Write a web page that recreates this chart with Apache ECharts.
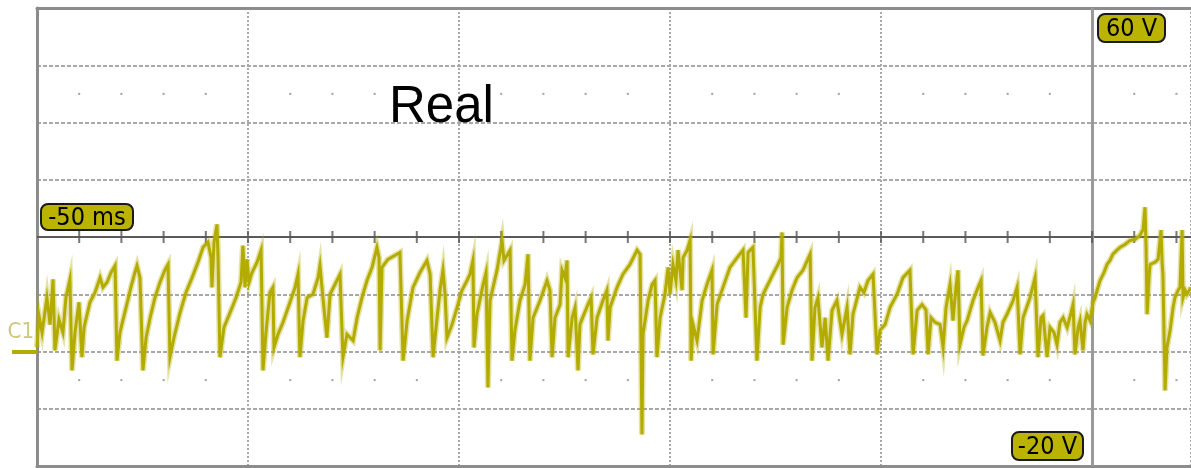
<!DOCTYPE html>
<html><head><meta charset="utf-8">
<script src="https://cdn.jsdelivr.net/npm/echarts@6/dist/echarts.min.js"></script>
<style>html,body{margin:0;padding:0;background:#fff}#c{width:1191px;height:468px}</style>
</head><body><div id="c"></div>
<script>
// Time (ms) and voltage (V) of the captured trace
const timeMs = [
 -50.00,-49.91,-49.76,-49.53,-49.38,-49.24,-49.15,-48.96,-48.77,-48.63,-48.44,-48.34,-48.20,-48.01,-47.87,-47.77,-47.49,-47.25,-47.01,-46.87,
 -46.68,-46.49,-46.30,-46.21,-46.07,-45.78,-45.55,-45.36,-45.26,-45.12,-44.98,-44.83,-44.64,-44.41,-44.17,-43.93,-43.79,-43.70,-43.51,-43.22,
 -42.94,-42.65,-42.37,-42.13,-41.90,-41.75,-41.71,-41.61,-41.47,-41.42,-41.33,-41.14,-40.85,-40.57,-40.33,-40.24,-40.14,-40.05,-39.95,-39.81,
 -39.57,-39.38,-39.29,-39.15,-38.96,-38.82,-38.77,-38.58,-38.34,-38.01,-37.77,-37.63,-37.54,
 -37.39,-37.20,-36.92,-36.68,-36.59,-36.45,-36.26,-36.11,-35.88,-35.64,-35.50,-35.31,-35.02,-34.83,-34.60,-34.36,-34.12,-33.89,-33.79,-33.74,
 -33.65,-33.37,-33.03,-32.80,-32.65,-32.46,-32.18,-31.85,-31.52,-31.37,-31.23,-31.04,-30.90,-30.76,-30.66,-30.57,-30.33,-30.09,-29.86,-29.62,
 -29.48,-29.34,-29.29,-29.15,-28.86,-28.72,-28.63,-28.53,-28.20,-27.96,-27.87,-27.58,-27.49,
 -27.35,-27.11,-26.87,-26.73,-26.64,-26.49,-26.16,-25.83,-25.69,-25.59,-25.45,-25.21,-25.12,-24.98,-24.88,-24.83,-24.64,-24.50,-24.36,-24.27,
 -24.08,-23.89,-23.74,-23.65,-23.46,-23.18,-22.99,-22.94,-22.84,-22.51,-22.23,-21.90,-21.56,-21.42,-21.33,-21.28,-21.04,-20.85,-20.71,-20.62,
 -20.47,-20.24,-20.09,-20.00,-19.86,-19.72,-19.62,-19.43,-19.38,-19.19,-19.05,-19.00,-18.91,-18.72,-18.48,-18.25,-18.01,-17.96,-17.77,-17.49,
 -17.16,-16.82,-16.54,-16.40,-16.30,-16.07,-15.88,
 -15.73,-15.59,-15.36,-15.12,-14.88,-14.74,-14.69,-14.64,-14.45,-14.22,-13.98,-13.70,-13.36,-13.27,-13.13,-12.99,-12.80,-12.65,-12.51,-12.32,
 -12.09,-11.85,-11.61,-11.47,-11.33,-11.00,-10.81,-10.62,-10.38,-10.19,-10.05,-9.81,-9.57,-9.24,-8.96,-8.63,-8.48,-8.29,-8.06,-7.87,
 -7.77,-7.63,-7.44,-7.20,-7.06,-6.92,-6.73,-6.59,-6.45,-6.35,-6.26,-6.07,-5.92,-5.64,-5.40,-5.26,-5.17,-4.98,-4.83,-4.60,
 -4.36,-4.22,-4.03,-3.74,-3.55,-3.41,-3.27,-2.94,-2.70,-2.56,-2.42,-2.32,-2.13,-1.99,-1.80,-1.66,-1.52,-1.37,-1.18,-0.99,
 -0.90,-0.81,-0.66,-0.57,-0.43,-0.33,-0.24,-0.09,
 0.05,0.14,0.24,0.38,0.57,0.71,0.85,0.99,1.18,1.33,1.56,1.80,2.04,2.27,2.42,2.51,2.56,2.61,2.70,2.75,
 2.99,3.13,3.22,3.27,3.32,3.36,3.46,3.55,3.70,3.84,3.93,4.08,4.17,4.27,4.31,4.41,4.50,4.69
];
const volts = [
 0.7,6.3,3.3,9.4,4.7,12.6,0.2,5.6,3.3,9.4,12.6,-3.3,3.3,8.6,-1.0,4.2,8.6,10.3,12.9,11.2,
 12.1,13.8,15.0,-1.6,3.3,7.7,11.2,13.8,15.0,12.9,-3.3,2.4,5.9,9.4,12.1,14.3,15.2,-1.0,2.4,6.8,
 10.3,12.9,15.6,18.2,19.1,16.4,11.2,19.1,22.2,16.4,-1.0,4.2,6.8,9.4,12.1,18.5,11.2,16.1,12.1,13.8,
 15.6,17.7,-3.3,3.3,10.3,11.2,0.7,3.0,5.1,8.6,11.2,13.5,-1.0,
 5.4,9.4,10.0,12.9,15.0,9.4,2.4,10.0,11.7,13.5,-1.0,3.0,1.9,5.9,9.4,12.4,14.7,18.2,16.4,0.2,
 14.7,16.1,16.8,17.3,-1.6,5.4,11.2,13.8,15.9,13.5,-1.0,5.9,10.7,14.2,10.0,2.4,4.7,7.7,10.7,12.4,
 13.5,15.9,0.7,6.5,11.7,13.8,-6.3,8.9,14.2,19.4,15.9,17.7,-1.6,
 3.7,8.9,11.7,17.0,-1.6,5.9,8.9,12.4,10.7,-1.0,5.9,8.2,14.2,12.9,15.9,-1.0,5.9,7.7,-3.3,4.7,
 6.5,8.2,9.4,-0.5,5.9,8.9,10.7,1.9,7.7,11.2,13.5,15.2,17.7,17.0,-14.5,3.0,8.9,11.7,12.4,-1.0,
 5.9,10.0,14.7,10.0,15.2,12.4,17.7,10.7,16.4,17.7,19.4,-1.6,4.7,1.9,8.9,11.7,14.2,-0.5,8.2,11.2,
 14.7,16.4,17.7,5.9,17.3,18.2,-1.6,
 7.7,10.0,11.7,13.5,15.2,16.4,20.8,1.2,7.7,10.7,12.9,14.2,17.0,-1.6,7.7,9.4,0.7,5.9,-1.6,7.2,
 8.9,3.0,7.7,-0.5,6.5,11.2,10.3,12.4,13.5,-0.5,3.7,4.7,7.7,10.0,12.9,14.2,-0.5,7.2,8.2,7.3,
 -0.5,5.9,5.1,4.7,0.7,7.7,11.7,5.4,11.2,14.2,1.2,4.2,5.4,8.9,11.2,12.4,-0.7,4.2,6.8,5.1,
 1.9,5.1,6.5,8.9,11.2,-0.5,5.9,9.4,12.9,-1.0,5.9,6.3,-1.0,4.2,3.3,1.2,5.1,5.9,4.2,6.8,
 8.2,-0.5,4.2,5.4,0.2,5.1,6.5,5.4,
 8.6,9.4,10.7,12.4,13.8,15.2,15.9,17.0,17.7,18.2,18.7,19.4,19.6,20.3,21.3,25.2,18.2,6.5,12.9,15.2,
 15.6,16.1,16.4,21.2,15.6,13.5,-6.8,0.7,3.7,7.7,9.4,10.7,11.2,21.2,9.4,10.7,10.0,11.2
];
// Minor tick positions (ms) along the centre graticule line
const tickTimes = [-48,-46,-44,-42,-40,-38,-36,-34,-32,-30,-28,-26,-24,-22,-20,-18,-16,-14,-12,-10,-8,-6,-4,-2,0,2,4];
// Rows of graticule dots (V)
const dotVolts = [45, -5];
const centreVolt = 20;
const triggerTime = 0;
const timeMin = -50, timeMax = 4.69, timeDiv = 10;
const voltMin = -20, voltMax = 60, voltDiv = 10;
const timeLabel = '-50 ms';
const topLabel = '60 V';
const bottomLabel = '-20 V';
const channelLabel = 'C1';
const titleText = 'Real';

const TRACE = '#b3ab00';
const BADGE = '#bab300';
const FRAME = '#8c8c8c';
const GRID = '#a8a8a8';
const badgeFont = "'DejaVu Sans Condensed','Liberation Sans Narrow','DejaVu Sans',sans-serif";

const chart = echarts.init(document.getElementById('c'), null, {renderer: 'canvas'});
const dotData = [];
dotVolts.forEach(v => tickTimes.forEach(t => { if (t % 10 !== 0) dotData.push([t, v]); }));
const traceData = timeMs.map((t, i) => [t, volts[i]]);

function badge(x, y, w, h, text) {
  return {
    type: 'group', x: x, y: y, z: 100,
    children: [
      {type: 'rect', shape: {x: 0, y: 0, width: w, height: h, r: 7},
       style: {fill: BADGE, stroke: '#1a1a1a', lineWidth: 2}},
      {type: 'text', x: w / 2, y: h / 2 + 1,
       style: {text: text, fill: '#000', font: '25px ' + badgeFont, align: 'center', verticalAlign: 'middle'}}
    ]
  };
}

chart.setOption({
  animation: false,
  backgroundColor: '#fff',
  grid: {left: 37, top: 8, right: 0, bottom: 2, containLabel: false, outerBoundsMode: 'none'},
  xAxis: [
    {type: 'value', min: timeMin, max: timeMax, interval: timeDiv, position: 'bottom',
     axisLine: {show: true, onZero: false, lineStyle: {color: FRAME, width: 3}},
     axisTick: {show: false}, axisLabel: {show: false},
     splitLine: {show: true, lineStyle: {color: GRID, width: 2, type: [2, 2]}}},
    {type: 'value', min: timeMin, max: timeMax, interval: timeDiv, position: 'top',
     axisLine: {show: true, onZero: false, lineStyle: {color: FRAME, width: 3}},
     axisTick: {show: false}, axisLabel: {show: false}, splitLine: {show: false}}
  ],
  yAxis: [
    {type: 'value', min: voltMin, max: voltMax, interval: voltDiv, position: 'left',
     axisLine: {show: true, onZero: false, lineStyle: {color: FRAME, width: 3}},
     axisTick: {show: false}, axisLabel: {show: false},
     splitLine: {show: true, lineStyle: {color: GRID, width: 2, type: [4, 2]}}}
  ],
  series: [
    {type: 'scatter', name: 'ticks', xAxisIndex: 0, yAxisIndex: 0, z: 1, silent: true,
     symbol: 'rect', symbolSize: [2, 12], itemStyle: {color: '#555'},
     data: tickTimes.map(t => [t, centreVolt]),
     markLine: {symbol: 'none', silent: true, label: {show: false}, z: 1,
       data: [
         {yAxis: centreVolt, lineStyle: {color: '#5a5a5a', width: 2, type: 'solid'}},
         {xAxis: triggerTime, lineStyle: {color: '#9a9a9a', width: 3, type: 'solid'}}
       ]}},
    {type: 'scatter', name: 'dots', z: 1, silent: true, symbol: 'rect', symbolSize: 2,
     itemStyle: {color: '#888'}, data: dotData},
    {type: 'line', name: 'C1 halo', z: 4, showSymbol: false, silent: true,
     lineStyle: {color: TRACE, width: 6, opacity: 0.35, join: 'miter'},
     data: traceData},
    {type: 'line', name: 'C1', z: 5, showSymbol: false, silent: true,
     lineStyle: {color: TRACE, width: 3, join: 'miter'},
     data: traceData}
  ],
  graphic: [
    {type: 'text', x: 389, y: 108, z: 100,
     style: {text: titleText, fill: '#000', font: '51px "Liberation Sans", Arial, sans-serif', verticalAlign: 'middle'}},
    badge(41, 204, 92, 26, timeLabel),
    badge(1098, 14, 67, 28, topLabel),
    badge(1012, 432, 71, 28, bottomLabel),
    {type: 'text', x: 34, y: 332, z: 100,
     style: {text: channelLabel, fill: '#cdc87a', font: '22px ' + badgeFont, align: 'right', verticalAlign: 'middle'}},
    {type: 'rect', z: 100, shape: {x: 12, y: 350, width: 25, height: 4}, style: {fill: TRACE}}
  ]
});
</script></body></html>
